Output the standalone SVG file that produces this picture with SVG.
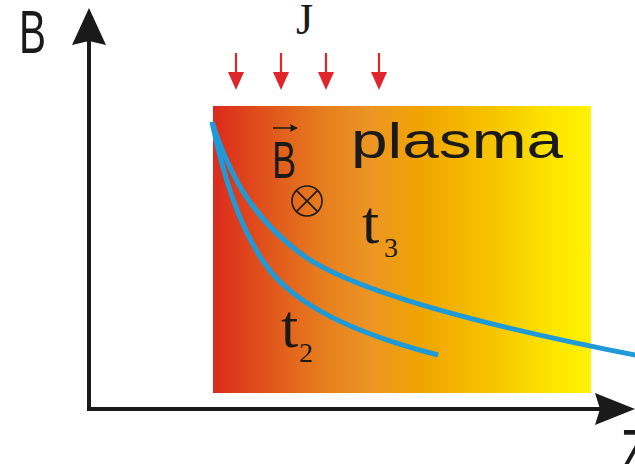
<svg xmlns="http://www.w3.org/2000/svg" width="635" height="464" viewBox="0 0 635 464">
  <style>
    .sans { font-family: "Liberation Sans", Arial, sans-serif; fill: #1a1a1a; }
    .serif { font-family: "Liberation Serif", "Times New Roman", serif; fill: #1a1a1a; }
    .curve { fill: none; stroke: #1e9ad8; stroke-width: 5; stroke-linecap: butt; }
    .jarrow { stroke: #e0262a; stroke-width: 2.2; fill: none; }
    .jhead { fill: #e0262a; }
    .axis { stroke: #1a1a1a; stroke-width: 4; fill: none; }
  </style>
  <defs>
    <linearGradient id="plasmaGrad" x1="0" y1="0" x2="1" y2="0">
      <stop offset="0" stop-color="#dc2a1c"/>
      <stop offset="0.15" stop-color="#e0561c"/>
      <stop offset="0.3" stop-color="#e7801e"/>
      <stop offset="0.42" stop-color="#ec9624"/>
      <stop offset="0.55" stop-color="#f0a400"/>
      <stop offset="0.75" stop-color="#f7c600"/>
      <stop offset="0.9" stop-color="#fde600"/>
      <stop offset="1" stop-color="#fff200"/>
    </linearGradient>
  </defs>

  <g id="plasma-region">
    <rect x="213" y="106" width="378" height="287" fill="url(#plasmaGrad)"/>
    <text class="sans" x="351" y="158" font-size="50" textLength="212" lengthAdjust="spacingAndGlyphs">plasma</text>
  </g>

  <g id="axes">
    <line class="axis" x1="89" y1="411" x2="89" y2="38"/>
    <polygon points="89,8 106,45 89,41 72,45" fill="#1a1a1a"/>
    <line class="axis" x1="87" y1="409" x2="602" y2="409"/>
    <polygon points="635,409 595,393 600,409 595,425" fill="#1a1a1a"/>
    <text class="sans" x="19" y="53" font-size="62" textLength="27" lengthAdjust="spacingAndGlyphs">B</text>
    <text class="sans" x="621" y="472" font-size="62" textLength="27" lengthAdjust="spacingAndGlyphs">Z</text>
  </g>

  <g id="current-J">
    <text class="serif" x="296" y="34" font-size="44">J</text>
    <line class="jarrow" x1="236" y1="53" x2="236" y2="76"/>
    <polygon class="jhead" points="228,72 244,72 236,90"/>
    <line class="jarrow" x1="281" y1="53" x2="281" y2="76"/>
    <polygon class="jhead" points="273,72 289,72 281,90"/>
    <line class="jarrow" x1="326" y1="53" x2="326" y2="76"/>
    <polygon class="jhead" points="318,72 334,72 326,90"/>
    <line class="jarrow" x1="379" y1="53" x2="379" y2="76"/>
    <polygon class="jhead" points="371,72 387,72 379,90"/>
  </g>

  <g id="field-B">
    <text class="sans" x="272" y="178" font-size="52" textLength="24" lengthAdjust="spacingAndGlyphs">B</text>
    <line x1="273" y1="128" x2="294" y2="128" stroke="#1a1a1a" stroke-width="1.5"/>
    <polygon points="298,128 290,124 291,128 290,132" fill="#1a1a1a"/>
    <circle cx="307" cy="201" r="15" fill="none" stroke="#1a1a1a" stroke-width="1.6"/>
    <line x1="296.4" y1="190.4" x2="317.6" y2="211.6" stroke="#1a1a1a" stroke-width="1.6"/>
    <line x1="317.6" y1="190.4" x2="296.4" y2="211.6" stroke="#1a1a1a" stroke-width="1.6"/>
  </g>

  <g id="connectors">
    <path class="curve" d="M212,122 C222,170 238,228 268,268 S360,335 438,355"/>
    <path class="curve" d="M212,122 C230,175 250,215 300,253 S480,325 640,356"/>
  </g>

  <g id="label-t3">
    <text class="serif" x="362" y="243" font-size="62">t</text>
    <text class="serif" x="384" y="257" font-size="28">3</text>
  </g>
  <g id="label-t2">
    <text class="serif" x="281" y="347" font-size="62">t</text>
    <text class="serif" x="299" y="362" font-size="28">2</text>
  </g>
</svg>
